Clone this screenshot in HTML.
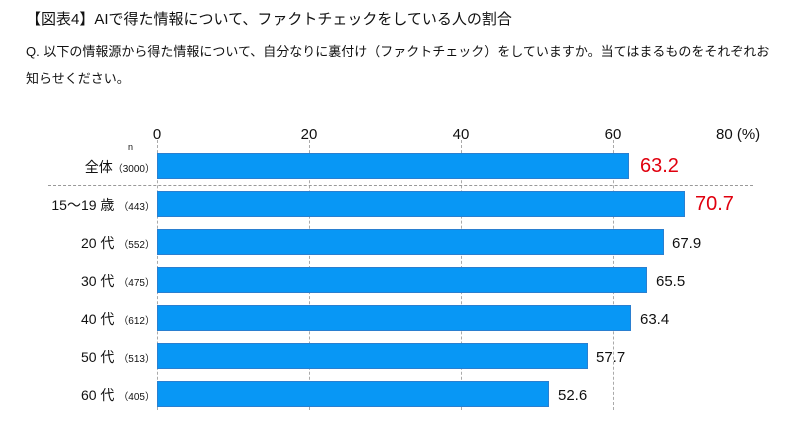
<!DOCTYPE html>
<html><head><meta charset="utf-8"><style>
body{margin:0;width:800px;height:431px;background:#fff;position:relative;overflow:hidden;font-family:"Liberation Sans","Noto Sans CJK JP",sans-serif;color:#111}
.a{position:absolute;white-space:nowrap}
.bar{position:absolute;left:157px;height:26px;background:#0897f5;border:1px solid #2a7fd0;box-sizing:border-box}
.v{position:absolute;font-size:15px;line-height:26px}
.r{color:#e0000e;font-size:20px}
.lab{position:absolute;right:645px;font-size:14px;line-height:26px;text-align:right}
.lab small{font-size:10px;margin-left:0px}
.g{position:absolute;top:140px;height:270px;border-left:1px dashed #aaa}
.t{position:absolute;top:126px;font-size:15px;transform:translateX(-50%)}
</style></head><body>
<div class="a" style="left:26px;top:8px;font-size:15px">【図表4】AIで得た情報について、ファクトチェックをしている人の割合</div>
<div class="a" style="left:26px;top:38px;font-size:13px;line-height:27px;white-space:normal;width:750px">Q. 以下の情報源から得た情報について、自分なりに裏付け（ファクトチェック）をしていますか。当てはまるものをそれぞれお知らせください。</div>
<div class="g" style="left:157px"></div><div class="g" style="left:309px"></div><div class="g" style="left:461px"></div><div class="g" style="left:613px"></div>
<div class="t" style="left:157px">0</div><div class="t" style="left:309px">20</div><div class="t" style="left:461px">40</div><div class="t" style="left:613px">60</div>
<div class="a" style="left:716px;top:126px;font-size:15px">80 (%)</div>
<div class="a" style="left:128px;top:142px;font-size:9px">n</div>
<div class="a" style="left:48px;top:185px;width:705px;border-top:1px dashed #999"></div>
<div class="bar" style="top:153px;width:472px"></div><div class="v r" style="left:640px;top:153px">63.2</div>
<div class="bar" style="top:191px;width:528px"></div><div class="v r" style="left:695px;top:191px">70.7</div>
<div class="bar" style="top:229px;width:507px"></div><div class="v" style="left:672px;top:231px">67.9</div>
<div class="bar" style="top:267px;width:490px"></div><div class="v" style="left:656px;top:269px">65.5</div>
<div class="bar" style="top:305px;width:474px"></div><div class="v" style="left:640px;top:307px">63.4</div>
<div class="bar" style="top:343px;width:431px"></div><div class="v" style="left:596px;top:345px">57.7</div>
<div class="bar" style="top:381px;width:392px"></div><div class="v" style="left:558px;top:383px">52.6</div>
<div class="lab" style="top:154px">全体<small>（3000）</small></div>
<div class="lab" style="top:192px">15～19 歳 <small>（443）</small></div>
<div class="lab" style="top:230px">20 代 <small>（552）</small></div>
<div class="lab" style="top:268px">30 代 <small>（475）</small></div>
<div class="lab" style="top:306px">40 代 <small>（612）</small></div>
<div class="lab" style="top:344px">50 代 <small>（513）</small></div>
<div class="lab" style="top:382px">60 代 <small>（405）</small></div>
</body></html>
